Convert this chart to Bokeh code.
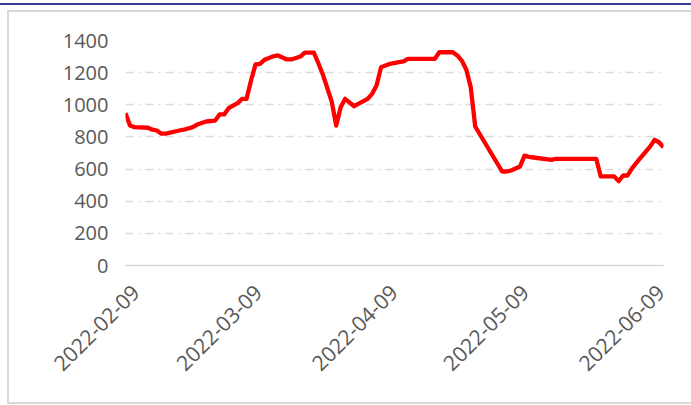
import datetime as dt
from math import pi

from bokeh.plotting import figure
from bokeh.models import Range1d, FixedTicker, DatetimeAxis
from bokeh.embed import file_html
from bokeh.resources import INLINE

# ---- data ----
dates = [
    "2022-02-09", "2022-02-10", "2022-02-11", "2022-02-14", "2022-02-15",
    "2022-02-16", "2022-02-17", "2022-02-18", "2022-02-21", "2022-02-22",
    "2022-02-24", "2022-02-25", "2022-02-27", "2022-03-01", "2022-03-02",
    "2022-03-03", "2022-03-04", "2022-03-06", "2022-03-07", "2022-03-08",
    "2022-03-09", "2022-03-10", "2022-03-11", "2022-03-12", "2022-03-14",
    "2022-03-15", "2022-03-17", "2022-03-18", "2022-03-20", "2022-03-21",
    "2022-03-23", "2022-03-24", "2022-03-25", "2022-03-27", "2022-03-28",
    "2022-03-29", "2022-03-30", "2022-04-01", "2022-04-04", "2022-04-05",
    "2022-04-06", "2022-04-07", "2022-04-09", "2022-04-11", "2022-04-12",
    "2022-04-13", "2022-04-19", "2022-04-20", "2022-04-23", "2022-04-24",
    "2022-04-25", "2022-04-26", "2022-04-27", "2022-04-28", "2022-05-04",
    "2022-05-05", "2022-05-06", "2022-05-08", "2022-05-09", "2022-05-10",
    "2022-05-11", "2022-05-15", "2022-05-16", "2022-05-25", "2022-05-26",
    "2022-05-29", "2022-05-30", "2022-05-31", "2022-06-01", "2022-06-02",
    "2022-06-04", "2022-06-06", "2022-06-07", "2022-06-08", "2022-06-09",
]
values = [
    948, 871, 861, 857, 845,
    840, 820, 820, 840, 845,
    861, 877, 896, 902, 940,
    940, 979, 1010, 1037, 1037,
    1151, 1251, 1255, 1280, 1302,
    1307, 1282, 1282, 1300, 1325,
    1325, 1260, 1190, 1020, 871,
    985, 1037, 991, 1037, 1068,
    1120, 1234, 1255, 1265, 1270,
    1286, 1286, 1327, 1327, 1307,
    1275, 1220, 1110, 865, 585,
    585, 591, 616, 684, 676,
    672, 657, 664, 664, 554,
    554, 525, 560, 560, 606,
    674, 740, 782, 767, 736,
]
x_tick_labels = ["2022-02-09", "2022-03-09", "2022-04-09", "2022-05-09", "2022-06-09"]
y_ticks = [0, 200, 400, 600, 800, 1000, 1200, 1400]


def to_dt(s):
    return dt.datetime.strptime(s, "%Y-%m-%d")


def to_ms(s):
    return (to_dt(s) - dt.datetime(1970, 1, 1)).total_seconds() * 1000.0


xs = [to_dt(d) for d in dates]
x_tick_ms = [to_ms(d) for d in x_tick_labels]

W, H = 691, 405
# Excel's slanted labels sit a little to the right of their dates; emulate with
# a label range that is padded slightly on both sides.
LABEL_PAD_LEFT = dt.timedelta(days=2.29)
LABEL_PAD_RIGHT = dt.timedelta(days=0.69)

grey = "#d9d9d9"
page_bg = (
    "linear-gradient(#383c94,#383c94) 0px 3px / 100% 2px no-repeat,"
    f"linear-gradient({grey},{grey}) 7px 10px / 684px 2px no-repeat,"
    f"linear-gradient({grey},{grey}) 7px 10px / 2px 394px no-repeat,"
    f"linear-gradient({grey},{grey}) 7px 402px / 684px 2px no-repeat,"
    "#ffffff"
)

p = figure(
    width=W, height=H,
    x_axis_type="datetime",
    output_backend="svg",
    toolbar_location=None,
    min_border_left=125, min_border_right=28,
    min_border_top=40, min_border_bottom=140,
    x_range=Range1d(to_dt(x_tick_labels[0]), to_dt(x_tick_labels[-1])),
    y_range=Range1d(y_ticks[0], y_ticks[-1]),
    styles={"background": page_bg},
)
p.outline_line_color = None
p.background_fill_color = None
p.border_fill_color = None

p.line(xs, values, line_color="#ff0000", line_width=4.3, line_join="round")

# grid
p.xgrid.grid_line_color = None
p.ygrid.grid_line_color = grey
p.ygrid.grid_line_width = 1.5
p.ygrid.grid_line_dash = "8 5 2 5"

# y axis
p.yaxis.ticker = FixedTicker(ticks=y_ticks)
p.yaxis.axis_line_color = None
p.yaxis.major_tick_line_color = None
p.yaxis.minor_tick_line_color = None
p.yaxis.major_tick_out = 0
p.yaxis.minor_tick_out = 0
p.yaxis.major_label_standoff = 17
p.yaxis.major_label_text_font = "Open Sans"
p.yaxis.major_label_text_font_size = "20px"
p.yaxis.major_label_text_color = "#595959"

# main x axis: only the baseline
xa = p.xaxis[0]
xa.ticker = FixedTicker(ticks=[])
xa.axis_line_color = grey
xa.axis_line_width = 1.5
xa.major_tick_out = 0
xa.minor_tick_out = 0
xa.major_label_standoff = 0

# label axis (slanted date labels)
p.extra_x_ranges = {"labels": Range1d(to_dt(x_tick_labels[0]) - LABEL_PAD_LEFT,
                                      to_dt(x_tick_labels[-1]) + LABEL_PAD_RIGHT)}
lab_axis = DatetimeAxis(
    x_range_name="labels",
    ticker=FixedTicker(ticks=x_tick_ms),
    major_label_overrides={t: lab for t, lab in zip(x_tick_ms, x_tick_labels)},
    axis_line_color=None,
    major_tick_line_color=None,
    minor_tick_line_color=None,
    major_tick_out=0,
    minor_tick_out=0,
    major_label_orientation=pi / 4,
    major_label_standoff=23,
    major_label_text_font="Open Sans",
    major_label_text_font_size="21.2px",
    major_label_text_color="#595959",
)
p.add_layout(lab_axis, "below")

open("out.html", "w").write(file_html(p, INLINE))
